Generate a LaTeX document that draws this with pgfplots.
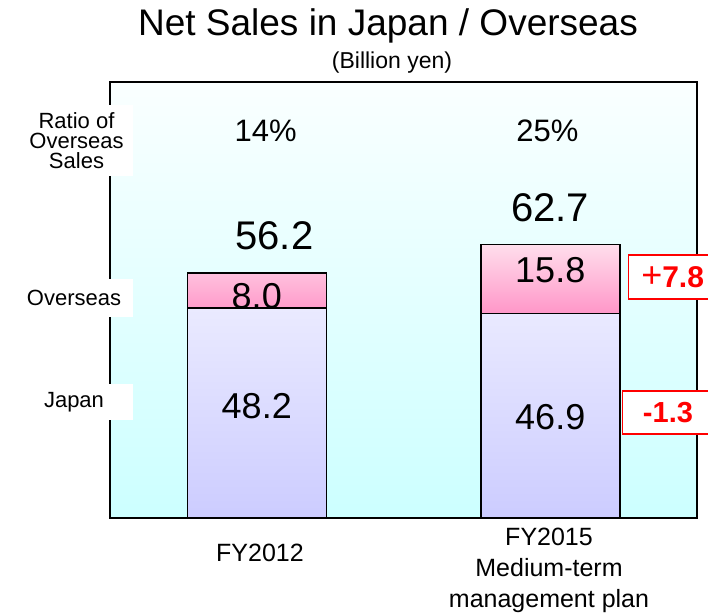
\documentclass[border=0pt]{standalone}
\usepackage{pgfplots}
\pgfplotsset{compat=1.18}
\usepackage{fontspec}
\setmainfont{Liberation Sans}
\definecolor{bgtop}{RGB}{250,255,255}
\definecolor{bgbot}{RGB}{204,255,255}
\definecolor{jptop}{RGB}{234,234,255}
\definecolor{jpbot}{RGB}{204,204,255}
\definecolor{ostop}{RGB}{255,222,236}
\definecolor{osbot}{RGB}{255,150,200}
\definecolor{redbox}{RGB}{255,0,0}
\newcommand{\fs}[2]{\fontsize{#1}{#2}\selectfont}
\begin{document}
\begin{tikzpicture}[x=1pt,y=1pt]
\useasboundingbox (0,0) rectangle (708,614);
\begin{axis}[
  at={(110pt,96pt)}, anchor=south west,
  scale only axis, width=587pt, height=436pt,
  xmin=-0.5, xmax=1.5, ymin=0, ymax=100,
  xtick=\empty, ytick=\empty,
  ybar stacked, bar width=139pt,
  axis line style={line width=1.6pt, black},
  axis background/.style={top color=bgtop, bottom color=bgbot},
  clip=false,
]
\addplot[draw=black, line width=1.5pt, top color=jptop, bottom color=jpbot] coordinates {(0,48.2) (1,46.9)};
\addplot[draw=black, line width=1.5pt, top color=ostop, bottom color=osbot] coordinates {(0,8.0) (1,15.8)};
\coordinate (p14) at (axis cs:0.03,88.8);
\coordinate (p25) at (axis cs:0.99,88.8);
\coordinate (t1) at (axis cs:0.06,64.7);
\coordinate (t2) at (axis cs:1.0,71.1);
\coordinate (o1) at (axis cs:0,50.9);
\coordinate (j1) at (axis cs:0,25.7);
\coordinate (o2) at (axis cs:1,56.9);
\coordinate (j2) at (axis cs:1,23.2);
\coordinate (d1) at (axis cs:1.417,55.3);
\coordinate (d2) at (axis cs:1.401,24.2);
\end{axis}
\node[font=\fs{31}{31}] at (p14) {14\%};
\node[font=\fs{31}{31}] at (p25) {25\%};
\node[font=\fs{40}{40}] at (t1) {56.2};
\node[font=\fs{40}{40}] at (t2) {62.7};
\node[font=\fs{36}{36}] at (o1) {8.0};
\node[font=\fs{36}{36}] at (j1) {48.2};
\node[font=\fs{36}{36}] at (o2) {15.8};
\node[font=\fs{36}{36}] at (j2) {46.9};
\node[draw=redbox, line width=1.3pt, fill=white, text=redbox, font=\bfseries\fs{30}{30},
      minimum width=88pt, minimum height=44pt, inner sep=0pt] at (d1) {{\mdseries\fs{36}{36}+}7.8};
\node[draw=redbox, line width=1.3pt, fill=white, text=redbox, font=\bfseries\fs{29}{29},
      minimum width=91pt, minimum height=43pt, inner sep=0pt] at (d2) {-1.3};
% title
\node[font=\fs{37}{37}] at (388,588) {Net Sales in Japan / Overseas};
\node[font=\fs{23}{23}] at (392,551) {(Billion yen)};
% left labels
\node[fill=white, minimum width=113pt, minimum height=71pt, inner sep=0pt, align=center,
      font=\fs{22}{20}] at (76.5,473.5) {Ratio of\\Overseas\\Sales};
\node[fill=white, minimum width=118pt, minimum height=38pt, inner sep=0pt,
      font=\fs{22}{22}] at (74,316) {Overseas};
\node[fill=white, minimum width=118pt, minimum height=36pt, inner sep=0pt,
      font=\fs{22}{22}] at (74,212) {Japan};
% category labels
\node[font=\fs{25}{30}] at (260,61) {FY2012};
\node[font=\fs{25}{31}, align=center] at (549,44) {FY2015\\Medium-term\\management plan};
\end{tikzpicture}
\end{document}
